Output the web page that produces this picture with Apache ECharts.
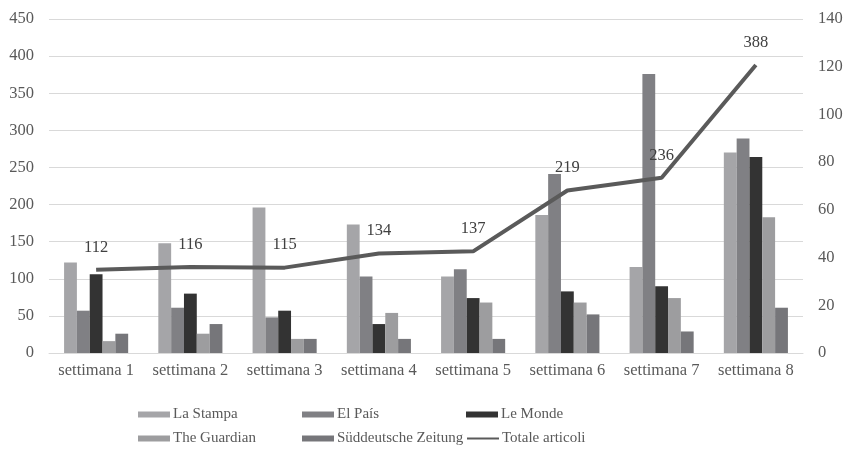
<!DOCTYPE html>
<html>
<head>
<meta charset="utf-8">
<script src="https://cdn.jsdelivr.net/npm/echarts@6/dist/echarts.min.js"></script>
<style>
  html, body { margin: 0; padding: 0; background: #fff; }
  #main { width: 846px; height: 450px; }
</style>
</head>
<body>
<div id="main"></div>
<script>
// settimane
var weeks = ['settimana 1', 'settimana 2', 'settimana 3', 'settimana 4',
             'settimana 5', 'settimana 6', 'settimana 7', 'settimana 8'];

var laStampa    = [122, 148, 196, 173, 103, 186, 116, 270];
var elPais      = [57, 61, 48, 103, 113, 241, 376, 289];
var leMonde     = [106, 80, 57, 39, 74, 83, 90, 264];
var theGuardian = [16, 26, 19, 54, 68, 68, 74, 183];
var sueddeutsche = [26, 39, 19, 19, 19, 52, 29, 61];
var totale      = [112, 116, 115, 134, 137, 219, 236, 388];

var leftTicks = { min: 0, max: 450, interval: 50 };
var rightTicks = { min: 0, max: 140, interval: 20 };

var chart = echarts.init(document.getElementById('main'));

var font = 'Liberation Serif';
var txt = '#595959';
var axisFont = 16.5;

function bar(name, data, color) {
    return {
        name: name,
        type: 'bar',
        barGap: '0%',
        barCategoryGap: '32%',
        itemStyle: { color: color },
        data: data
    };
}

// one legend box per item, laid out as 3 columns x 2 rows
function legendItem(left, top, item) {
    return {
        left: left,
        top: top,
        itemWidth: 32,
        itemHeight: 6,
        textStyle: { fontFamily: font, fontSize: 15, color: txt, padding: [0, 0, 0, -2] },
        data: [item]
    };
}

var option = {
    backgroundColor: '#fff',
    animation: false,
    textStyle: { fontFamily: font },
    grid: { left: 49, right: 43, top: 19, bottom: 97 },
    legend: [
        legendItem(133, 402, { name: 'La Stampa', icon: 'rect' }),
        legendItem(297, 402, { name: 'El País', icon: 'rect' }),
        legendItem(461, 402, { name: 'Le Monde', icon: 'rect' }),
        legendItem(133, 426, { name: 'The Guardian', icon: 'rect' }),
        legendItem(297, 426, { name: 'Süddeutsche Zeitung', icon: 'rect' }),
        legendItem(461, 426, { name: 'Totale articoli', itemStyle: { opacity: 0 } })
    ],
    xAxis: {
        type: 'category',
        data: weeks,
        axisTick: { show: false },
        axisLine: { lineStyle: { color: '#d9d9d9', width: 1 } },
        axisLabel: { interval: 0, fontFamily: font, fontSize: axisFont, color: txt, margin: 9 }
    },
    yAxis: [
        {
            type: 'value',
            min: leftTicks.min, max: leftTicks.max, interval: leftTicks.interval,
            axisLine: { show: false },
            axisTick: { show: false },
            splitLine: { lineStyle: { color: '#d9d9d9' } },
            axisLabel: { fontFamily: font, fontSize: axisFont, color: txt, margin: 15 }
        },
        {
            type: 'value',
            position: 'right',
            min: rightTicks.min, max: rightTicks.max, interval: rightTicks.interval,
            axisLine: { show: false },
            axisTick: { show: false },
            splitLine: { show: false },
            axisLabel: { fontFamily: font, fontSize: axisFont, color: txt, margin: 15 }
        }
    ],
    series: [
        bar('La Stampa', laStampa, '#a5a5a8'),
        bar('El País', elPais, '#808084'),
        bar('Le Monde', leMonde, '#333333'),
        bar('The Guardian', theGuardian, '#9d9d9f'),
        bar('Süddeutsche Zeitung', sueddeutsche, '#76767a'),
        {
            name: 'Totale articoli',
            type: 'line',
            symbol: 'circle',
            symbolSize: 0.1,
            showSymbol: true,
            lineStyle: { color: '#5a5a5a', width: 4 },
            itemStyle: { color: '#5a5a5a' },
            label: {
                show: true,
                position: 'top',
                distance: 14,
                fontFamily: font,
                fontSize: axisFont,
                color: '#404040'
            },
            z: 5,
            data: totale
        }
    ]
};

chart.setOption(option);
</script>
</body>
</html>
